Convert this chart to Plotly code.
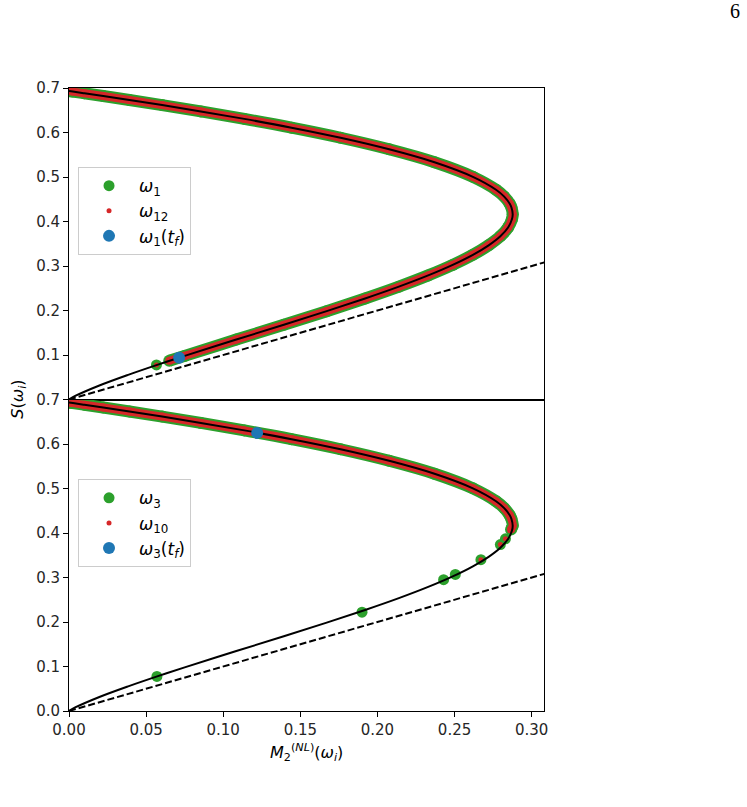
import plotly.graph_objects as go
from plotly.subplots import make_subplots

# Black reference curve S vs M2
curve_m2 = [0.0, 0.0040, 0.0197, 0.0388, 0.0572, 0.0750, 0.1085, 0.1393, 0.1671, 0.1920,
            0.2139, 0.2329, 0.2488, 0.2619, 0.2721, 0.2797, 0.2847, 0.2872, 0.2877, 0.2869,
            0.2858, 0.2822, 0.2769, 0.2619, 0.2370, 0.2076, 0.1761, 0.1443, 0.1137, 0.0855,
            0.0604, 0.0392, 0.0222, 0.0100, 0.0025, 0.0]
curve_s = [0.0, 0.0079, 0.0315, 0.0560, 0.0779, 0.0980, 0.1347, 0.1679, 0.1985, 0.2270,
           0.2536, 0.2788, 0.3025, 0.3251, 0.3465, 0.3669, 0.3864, 0.4050, 0.4165, 0.4313,
           0.4397, 0.4559, 0.4714, 0.5004, 0.5332, 0.5623, 0.5882, 0.6109, 0.6306, 0.6474,
           0.6616, 0.6730, 0.6819, 0.6881, 0.6919, 0.6931]

# Dashed reference line
ref_x = [0.0, 0.31]
ref_y = [0.0, 0.31]

# Top panel: omega_1 dense trajectory (green) and omega_12 (red)
w1_m2 = [0.0650, 0.0750, 0.1085, 0.1393, 0.1671, 0.1920, 0.2139, 0.2329, 0.2488, 0.2619,
         0.2721, 0.2797, 0.2847, 0.2872, 0.2877, 0.2869, 0.2858, 0.2822, 0.2769, 0.2619,
         0.2370, 0.2076, 0.1761, 0.1443, 0.1137, 0.0855, 0.0604, 0.0392, 0.0222, 0.0100,
         0.0025, 0.0]
w1_s = [0.0870, 0.0980, 0.1347, 0.1679, 0.1985, 0.2270, 0.2536, 0.2788, 0.3025, 0.3251,
        0.3465, 0.3669, 0.3864, 0.4050, 0.4165, 0.4313, 0.4397, 0.4559, 0.4714, 0.5004,
        0.5332, 0.5623, 0.5882, 0.6109, 0.6306, 0.6474, 0.6616, 0.6730, 0.6819, 0.6881,
        0.6919, 0.6931]
w1_iso_m2 = [0.0567]
w1_iso_s = [0.0778]
w1_tf_m2 = [0.0714]
w1_tf_s = [0.0940]

# Bottom panel: omega_3 (green) and omega_10 (red)
w3_m2 = [0.2866, 0.2877, 0.2869, 0.2858, 0.2822, 0.2769, 0.2619, 0.2370, 0.2076, 0.1761,
         0.1443, 0.1137, 0.0855, 0.0604, 0.0392, 0.0222, 0.0100, 0.0025, 0.0]
w3_s = [0.4080, 0.4165, 0.4313, 0.4397, 0.4559, 0.4714, 0.5004, 0.5332, 0.5623, 0.5882,
        0.6109, 0.6306, 0.6474, 0.6616, 0.6730, 0.6819, 0.6881, 0.6919, 0.6931]
w3_iso_m2 = [0.0570, 0.1900, 0.2429, 0.2505, 0.2671, 0.2797, 0.2830]
w3_iso_s = [0.0778, 0.2220, 0.2950, 0.3070, 0.3400, 0.3740, 0.3870]
w10_iso_m2 = [0.2671, 0.2797, 0.2830]
w10_iso_s = [0.3400, 0.3740, 0.3870]
w3_tf_m2 = [0.1220]
w3_tf_s = [0.6250]

GREEN = "#2ca02c"
RED = "#d62728"
BLUE = "#1f77b4"
GS = 11   # green marker size
RS = 5    # red marker size
BS = 12   # blue marker size

fig = make_subplots(rows=2, cols=1, shared_xaxes=True, vertical_spacing=0)


def add_panel(row, g_x, g_y, giso_x, giso_y, r_iso_x, r_iso_y, b_x, b_y, names, legend):
    # dense green band
    fig.add_trace(go.Scatter(x=g_x, y=g_y, mode="lines+markers", line=dict(color=GREEN, width=12, shape="spline"),
                             marker=dict(color=GREEN, size=12), showlegend=False, hoverinfo="skip"), row=row, col=1)
    fig.add_trace(go.Scatter(x=giso_x, y=giso_y, mode="markers", marker=dict(color=GREEN, size=GS),
                             name=names[0], legend=legend), row=row, col=1)
    # dense red band
    fig.add_trace(go.Scatter(x=g_x, y=g_y, mode="lines+markers", line=dict(color=RED, width=8, shape="spline"),
                             marker=dict(color=RED, size=8), showlegend=False, hoverinfo="skip"), row=row, col=1)
    fig.add_trace(go.Scatter(x=r_iso_x, y=r_iso_y, mode="markers", marker=dict(color=RED, size=RS),
                             name=names[1], legend=legend), row=row, col=1)
    # black curve and dashed line
    fig.add_trace(go.Scatter(x=curve_m2, y=curve_s, mode="lines", line=dict(color="black", width=2, shape="spline"),
                             showlegend=False, hoverinfo="skip"), row=row, col=1)
    fig.add_trace(go.Scatter(x=ref_x, y=ref_y, mode="lines", line=dict(color="black", width=2, dash="7px,3px"),
                             showlegend=False, hoverinfo="skip"), row=row, col=1)
    fig.add_trace(go.Scatter(x=b_x, y=b_y, mode="markers", marker=dict(color=BLUE, size=BS),
                             name=names[2], legend=legend), row=row, col=1)


add_panel(1, w1_m2, w1_s, w1_iso_m2, w1_iso_s, w1_iso_m2, w1_iso_s, w1_tf_m2, w1_tf_s,
          ["<i>ω</i><sub>1</sub>", "<i>ω</i><sub>12</sub>", "<i>ω</i><sub>1</sub>(<i>t<sub>f</sub></i>)"], "legend")
add_panel(2, w3_m2, w3_s, w3_iso_m2, w3_iso_s, w10_iso_m2, w10_iso_s, w3_tf_m2, w3_tf_s,
          ["<i>ω</i><sub>3</sub>", "<i>ω</i><sub>10</sub>", "<i>ω</i><sub>3</sub>(<i>t<sub>f</sub></i>)"], "legend2")

axis_common = dict(showline=True, linecolor="black", linewidth=1, mirror=True, showgrid=False, zeroline=False,
                   ticks="outside", ticklen=5, tickcolor="black",
                   tickfont=dict(family="DejaVu Sans", size=15, color="#262626"))

x_ticks = [0.0, 0.05, 0.10, 0.15, 0.20, 0.25, 0.30]
x_ticktext = ["0.00", "0.05", "0.10", "0.15", "0.20", "0.25", "0.30"]
y_ticks_top = [0.1, 0.2, 0.3, 0.4, 0.5, 0.6, 0.7]
y_ticks_bot = [0.0, 0.1, 0.2, 0.3, 0.4, 0.5, 0.6, 0.7]

fig.update_xaxes(range=[0, 0.308], **axis_common)
fig.update_xaxes(showticklabels=False, ticks="", row=1, col=1)
fig.update_xaxes(tickvals=x_ticks, ticktext=x_ticktext, row=2, col=1)
fig.update_yaxes(range=[0, 0.7], **axis_common)
fig.update_yaxes(tickvals=y_ticks_top, ticktext=[f"{v:.1f}" for v in y_ticks_top], row=1, col=1)
fig.update_yaxes(tickvals=y_ticks_bot, ticktext=[f"{v:.1f}" for v in y_ticks_bot], row=2, col=1)

legend_style = dict(bgcolor="white", bordercolor="#cccccc", borderwidth=1, xanchor="left", yanchor="top",
                    font=dict(family="DejaVu Sans", size=17, color="black"), itemsizing="trace", itemwidth=50,
                    tracegroupgap=0)
fig.update_layout(
    width=747, height=807,
    margin=dict(l=69, r=203, t=88, b=96),
    plot_bgcolor="white", paper_bgcolor="white",
    legend=dict(x=0.019, y=0.873, **legend_style),
    legend2=dict(x=0.019, y=0.372, **legend_style),
    title=dict(text="6", xref="container", yref="container", x=0.984, y=0.995, xanchor="center", yanchor="top",
               font=dict(family="Liberation Serif", size=20, color="black")),
    annotations=[
        dict(text="<i>S</i>(<i>ω<sub>i</sub></i>)", xref="paper", yref="paper", x=-0.107, y=0.5,
             xanchor="center", yanchor="middle",
             showarrow=False, textangle=-90, font=dict(family="DejaVu Sans", size=16, color="black")),
        dict(text="<i>M</i><sub>2</sub><sup>(<i>NL</i>)</sup>(<i>ω<sub>i</sub></i>)", xref="paper", yref="paper",
             x=0.5, y=-0.045, yanchor="top", showarrow=False,
             font=dict(family="DejaVu Sans", size=16, color="black")),
    ],
)

fig.write_html("out.html")
